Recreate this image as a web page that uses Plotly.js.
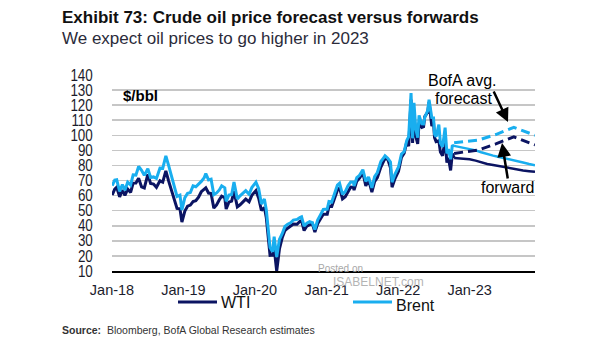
<!DOCTYPE html>
<html>
<head>
<meta charset="utf-8">
<script src="https://cdn.plot.ly/plotly-3.0.1.min.js"></script>
<style>
html,body{margin:0;padding:0;background:#fff;}
#chart{width:605px;height:341px;}
</style>
</head>
<body>
<div id="chart"></div>
<script>
// ---- Data ----
const histDates = [
'2018-01-02','2018-01-15','2018-01-25','2018-02-09','2018-02-23','2018-03-08','2018-03-22','2018-04-06','2018-04-19','2018-05-03','2018-05-17','2018-06-01','2018-06-15','2018-07-03','2018-07-17','2018-08-01','2018-08-16','2018-09-03','2018-09-17','2018-10-03','2018-10-17','2018-11-01','2018-11-15','2018-11-29','2018-12-14','2018-12-24',
'2019-01-08','2019-01-22','2019-02-05','2019-02-19','2019-03-05','2019-03-19','2019-04-02','2019-04-16','2019-04-25','2019-05-09','2019-05-22','2019-06-05','2019-06-19','2019-07-03','2019-07-15','2019-07-31','2019-08-07','2019-08-21','2019-09-04','2019-09-16','2019-10-03','2019-10-17','2019-11-01','2019-11-15','2019-12-02','2019-12-16',
'2020-01-06','2020-01-20','2020-02-03','2020-02-18','2020-02-28','2020-03-09','2020-03-18','2020-03-31','2020-04-08','2020-04-21','2020-05-05','2020-05-19','2020-06-02','2020-06-16','2020-07-01','2020-07-15','2020-08-03','2020-08-17','2020-08-26','2020-09-08','2020-09-22','2020-10-06','2020-10-20','2020-11-02','2020-11-16','2020-12-01','2020-12-15',
'2021-01-04','2021-01-13','2021-01-27','2021-02-10','2021-02-25','2021-03-08','2021-03-23','2021-04-06','2021-04-20','2021-05-04','2021-05-18','2021-05-21','2021-06-04','2021-06-18','2021-07-05','2021-07-20','2021-08-03','2021-08-20','2021-09-03','2021-09-17','2021-10-05','2021-10-19','2021-10-26','2021-11-09','2021-11-23','2021-12-01','2021-12-15',
'2022-01-03','2022-01-18','2022-02-01','2022-02-14','2022-02-24','2022-03-08','2022-03-16','2022-03-23','2022-04-01','2022-04-11','2022-04-18','2022-05-02','2022-05-11','2022-05-17','2022-06-01','2022-06-08','2022-06-22','2022-07-01','2022-07-06','2022-07-14','2022-07-28','2022-08-05','2022-08-16','2022-08-29','2022-09-07','2022-09-15','2022-09-26','2022-10-05','2022-10-14'];

const brentHist = [
66.6,70.3,70.5,62.8,67.3,63.6,68.9,67.1,73.8,73.6,79.3,76.8,73.4,77.8,72.0,72.4,71.4,78.2,78.1,86.3,80.1,72.9,66.6,59.5,60.3,50.5,
58.7,61.5,62.0,66.5,65.9,67.6,69.4,71.7,74.6,70.4,70.9,60.6,61.8,63.8,66.5,65.2,56.2,60.3,60.7,69.0,57.7,59.9,61.7,63.3,60.9,65.3,
68.9,64.6,54.5,57.8,50.5,34.4,25.5,22.7,32.8,19.3,31.0,34.7,39.6,41.0,42.0,43.8,44.2,45.4,45.9,39.8,41.7,42.7,42.0,37.5,43.8,47.4,50.8,
51.1,56.1,55.8,61.5,66.9,68.2,60.8,62.7,66.6,69.0,69.0,66.4,71.9,73.5,77.2,69.4,72.4,65.2,72.6,75.3,82.6,85.1,86.4,84.8,82.3,68.9,73.9,
79.0,87.5,89.2,96.5,99.1,128.0,98.0,121.6,104.4,98.5,113.2,107.6,107.5,111.9,116.3,123.6,111.7,111.6,100.7,99.1,107.1,94.9,92.3,105.1,88.0,90.8,84.1,93.4,92.5];

const wtiHist = [
60.4,64.3,65.5,59.2,63.6,60.1,64.3,62.1,68.3,68.4,71.5,65.8,65.1,74.1,68.1,67.7,65.5,69.8,68.9,76.4,69.8,63.7,56.5,51.5,51.2,42.5,
49.8,53.0,53.7,56.1,56.6,59.0,62.6,64.1,65.2,61.7,61.4,51.7,53.8,57.3,59.6,58.6,51.1,55.7,56.3,62.9,52.5,53.9,56.2,57.7,55.9,60.2,
63.3,58.3,50.1,52.1,45.3,31.1,20.4,20.5,25.1,10.0,24.6,32.0,36.8,38.4,39.8,41.2,41.0,42.9,43.4,36.8,39.8,40.7,41.5,35.8,41.3,44.6,47.6,
47.6,53.0,52.9,58.7,63.5,65.1,57.8,59.3,62.4,65.7,65.5,63.6,69.6,71.6,75.2,66.4,70.6,62.3,69.3,72.0,78.9,83.0,84.7,84.2,78.5,65.6,70.9,
76.1,85.4,88.2,95.5,92.8,123.7,95.0,114.9,99.3,94.3,108.2,105.2,105.7,112.4,115.3,122.1,106.2,108.4,98.5,95.8,96.4,89.0,86.5,97.0,81.9,85.1,76.7,87.8,85.0];

const fwdDates = ['2022-10-14','2022-11-01','2022-12-01','2023-01-01','2023-02-01','2023-03-01','2023-04-01','2023-05-01','2023-06-01','2023-07-01','2023-08-01','2023-09-01','2023-10-01','2023-11-01','2023-12-01'];
const brentFwd = [93.0,92.5,92.0,91.2,90.0,88.8,87.5,86.5,85.6,84.8,84.1,83.0,82.0,81.0,80.2];
const wtiFwd   = [85.0,84.8,84.5,84.1,83.2,82.0,81.0,80.3,79.5,78.8,78.1,77.3,76.7,76.2,75.8];

const fcDates  = ['2022-10-14','2023-02-15','2023-05-15','2023-08-15','2023-12-01'];
const brentFc  = [95.0,96.8,100.5,105.3,100.0];
const wtiFc    = [88.0,90.3,94.3,99.0,93.6];

const yTicks = [10,20,30,40,50,60,70,80,90,100,110,120,130,140];

// ---- Styling ----
const NAVY = '#0b1462';
const SKY  = '#19aeef';
const ARIAL = '"Liberation Sans", Arial, sans-serif';

// pixel → paper helpers (plot area: x 112..535, y 75..271)
const PL=112, PR=535, PT=75, PB=271;
const px = x => (x-PL)/(PR-PL);
const py = y => (PB-y)/(PB-PT);

const traces = [
  {x:histDates, y:wtiHist, type:'scatter', mode:'lines', line:{color:NAVY, width:3}, hoverinfo:'skip'},
  {x:histDates, y:brentHist, type:'scatter', mode:'lines', line:{color:SKY, width:3}, hoverinfo:'skip'},
  {x:fwdDates, y:wtiFwd, type:'scatter', mode:'lines', line:{color:NAVY, width:2.5}, hoverinfo:'skip'},
  {x:fwdDates, y:brentFwd, type:'scatter', mode:'lines', line:{color:SKY, width:2.5}, hoverinfo:'skip'},
  {x:fcDates, y:wtiFc, type:'scatter', mode:'lines', line:{color:NAVY, width:3, dash:'9px,5px'}, hoverinfo:'skip'},
  {x:fcDates, y:brentFc, type:'scatter', mode:'lines', line:{color:SKY, width:3, dash:'9px,5px'}, hoverinfo:'skip'}
];

const ann = [];
function txt(text, x, y, opts){
  ann.push(Object.assign({text:text, xref:'paper', yref:'paper', x:px(x), y:py(y), showarrow:false,
    xanchor:'left', yanchor:'middle', font:{family:ARIAL, size:15, color:'#000'}}, opts||{}));
}
// faint watermark
txt('Posted on', 340, 268, {xanchor:'center', font:{family:ARIAL, size:10, color:'#a8a8a8'}});
txt('ISABELNET.com', 378, 282, {xanchor:'center', font:{family:ARIAL, size:12, color:'#b4b4b4'}});
txt('<b>Exhibit 73: Crude oil price forecast versus forwards</b>', 60, 17, {font:{family:ARIAL, size:17, color:'#111'}});
txt('We expect oil prices to go higher in 2023', 60, 38, {font:{family:ARIAL, size:17, color:'#2b2b3a'}});
txt('<b>Source:</b>  Bloomberg, BofA Global Research estimates', 60, 330, {font:{family:ARIAL, size:10.5, color:'#333'}});
txt('<b>$/bbl</b>', 121, 96, {font:{family:ARIAL, size:15, color:'#000'}});
txt('BofA avg.', 462, 80, {xanchor:'center', font:{family:ARIAL, size:16, color:'#000'}});
txt('forecast', 463, 98, {xanchor:'center', font:{family:ARIAL, size:16, color:'#000'}});
txt('forward', 507, 187, {xanchor:'center', font:{family:ARIAL, size:16, color:'#000'}});
txt('WTI', 219, 302, {font:{family:ARIAL, size:16, color:'#111'}});
txt('Brent', 394, 305, {font:{family:ARIAL, size:16, color:'#111'}});

// arrows
ann.push({xref:'paper', yref:'paper', axref:'paper', ayref:'paper', x:px(508), y:py(122), ax:px(493), ay:py(90),
  showarrow:true, arrowhead:2, arrowsize:1.1, arrowwidth:2.5, arrowcolor:'#000', text:''});
ann.push({xref:'paper', yref:'paper', axref:'paper', ayref:'paper', x:px(502), y:py(143), ax:px(508), ay:py(180),
  showarrow:true, arrowhead:2, arrowsize:1.1, arrowwidth:2.5, arrowcolor:'#000', text:''});

const shapes = [
  {type:'line', xref:'paper', yref:'paper', x0:px(178), x1:px(217), y0:py(302), y1:py(302), line:{color:NAVY, width:3}},
  {type:'line', xref:'paper', yref:'paper', x0:px(353), x1:px(392), y0:py(302), y1:py(302), line:{color:SKY, width:3}}
];

const layout = {
  width:605, height:341,
  margin:{l:PL, r:605-PR, t:PT, b:341-PB, pad:0},
  paper_bgcolor:'#fff', plot_bgcolor:'#fff',
  showlegend:false,
  xaxis:{type:'date', range:['2018-01-01','2023-12-01'], tick0:'2018-01-01', dtick:'M12', tickformat:'%b-%y',
    showgrid:false, zeroline:false, showline:true, linecolor:'#000', linewidth:2,
    ticks:'outside', ticklen:5, tickcolor:'rgba(0,0,0,0)',
    tickfont:{family:ARIAL, size:14.5, color:'#1c1c2c'}, fixedrange:true},
  yaxis:{range:[10,140], tickvals:yTicks, ticktext:yTicks.map(String),
    showgrid:true, gridcolor:'#c6c6c6', gridwidth:1.5, zeroline:false, showline:false,
    ticks:'outside', ticklen:15, tickcolor:'rgba(0,0,0,0)',
    tickfont:{family:ARIAL, size:16, color:'#1c1c2c'}, fixedrange:true},
  annotations:ann,
  shapes:shapes
};

// condense y tick labels to mimic the narrow typeface of the reference
function squish(sel, f){
  document.querySelectorAll(sel).forEach(t => {
    const w = t.getComputedTextLength();
    if (w > 0) { t.setAttribute('textLength', (w*f).toFixed(1)); t.setAttribute('lengthAdjust','spacingAndGlyphs'); }
  });
}
Plotly.newPlot('chart', traces, layout, {staticPlot:true, displayModeBar:false}).then(() => {
  squish('#chart .ytick text', 0.84);
});
</script>
</body>
</html>
